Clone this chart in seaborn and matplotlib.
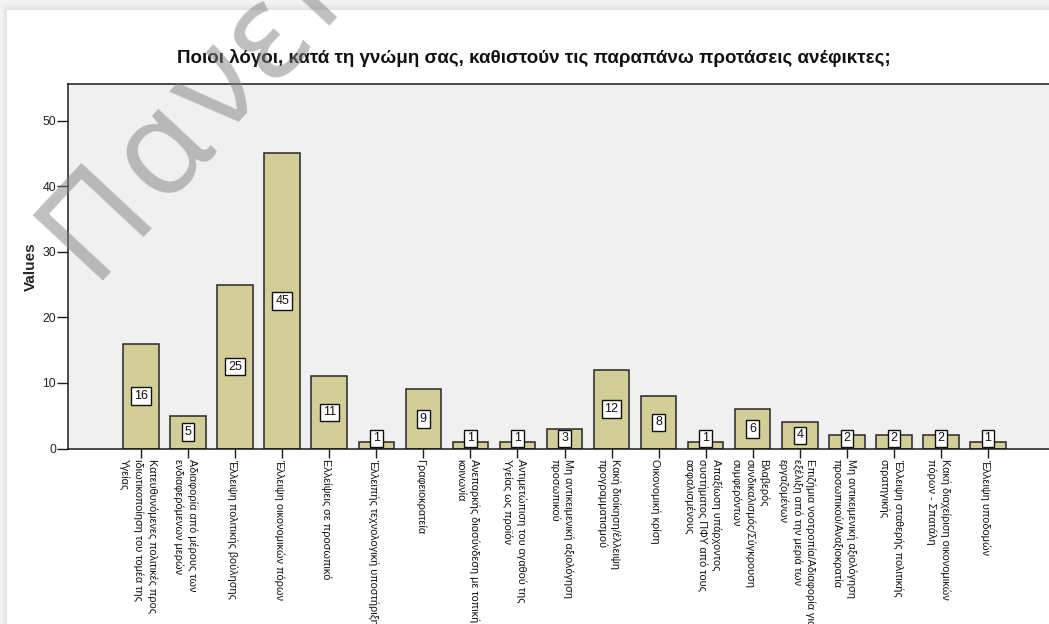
import numpy as np
import pandas as pd
import matplotlib
matplotlib.use("Agg")
import matplotlib.pyplot as plt
import matplotlib.transforms as mtransforms
from matplotlib.patches import Rectangle
from matplotlib.font_manager import FontProperties
import seaborn as sns

# Survey answers: reasons that make the proposals infeasible
reasons = [
    "Κατευθυνόμενες πολιτικές προς\nιδιωτικοποίηση του τομέα της\nΥγείας",
    "Αδιαφορία από μέρους των\nενδιαφερόμενων μερών",
    "Έλλειψη πολιτικής βούλησης",
    "Έλλειψη οικονομικών πόρων",
    "Ελλείψεις σε προσωπικό",
    "Έλλειπής τεχνολογική υποστήριξη",
    "Γραφειοκρατεία",
    "Ανεπαρκής διασύνδεση με τοπική\nκοινωνία",
    "Αντιμετώπιση του αγαθού της\nΥγείας ως προϊόν",
    "Μη αντικειμενική αξιολόγηση\nπροσωπικού",
    "Κακή διοίκηση/έλλειψη\nπρογραμματισμού",
    "Οικονομική κρίση",
    "Απαξίωση υπάρχοντος\nσυστήματος ΠΦΥ από τους\nασφαλισμένους",
    "Βλαβερός\nσυνδικαλισμός/Σύγκρουση\nσυμφερόντων",
    "Επιζήμια νοοτροπία/Αδιαφορία για\nεξέλιξη από την μεριά των\nεργαζομένων",
    "Μη αντικειμενική αξιολόγηση\nπροσωπικού/Αναξιοκρατία",
    "Έλλειψη σταθερής πολιτικής\nστρατηγικής",
    "Κακή διαχείριση οικονομικών\nπόρων - Σπατάλη",
    "Έλλειψη υποδομών",
]
counts = [16, 5, 25, 45, 11, 1, 9, 1, 1, 3, 12, 8, 1, 6, 4, 2, 2, 2, 1]
y_ticks = [0, 10, 20, 30, 40, 50]

title = "Ποιοι λόγοι, κατά τη γνώμη σας, καθιστούν τις παραπάνω προτάσεις ανέφικτες;"
y_title = "Values"
watermark = "Πανεπιστήμιο"

sns.set_style("ticks")
plt.rcParams["font.family"] = ["Liberation Sans", "DejaVu Sans"]

W, H = 1049, 624
fig = plt.figure(figsize=(W / 100, H / 100), dpi=100)
fig.patch.set_facecolor("white")

# soft grey frame along the top and left edges
for i, c in enumerate(["#e4e4e4", "#e9e9e9", "#eeeeee", "#f3f3f3"]):
    fig.add_artist(Rectangle((0, 1 - (10 - 2 * i) / H), 1, (10 - 2 * i) / H,
                             transform=fig.transFigure, color=c, lw=0, zorder=0))
    fig.add_artist(Rectangle((0, 0), (7 - 1.5 * i) / W, 1,
                             transform=fig.transFigure, color=c, lw=0, zorder=0))

ax_left, ax_top, ax_bottom, ax_right = 68, 84, 448.5, 1061
ax = fig.add_axes([ax_left / W, 1 - ax_bottom / H,
                   (ax_right - ax_left) / W, (ax_bottom - ax_top) / H])
ax.set_facecolor("#f0f0f0")

df = pd.DataFrame({"reason": reasons, "count": counts})
sns.barplot(data=df, x="reason", y="count", order=reasons, color="#d3ce97",
            saturation=1, width=0.755, edgecolor="#262626", linewidth=1.1,
            ax=ax, zorder=2)

ax.set_xlim(-1.551, len(reasons) - 1 + 1.551)
ax.set_ylim(0, 55.6)
ax.set_yticks(y_ticks)
ax.set_yticklabels([str(t) for t in y_ticks], fontsize=8.8)

for spine in ax.spines.values():
    spine.set_color("#1a1a1a")
    spine.set_linewidth(1.1)

ax.tick_params(axis="y", direction="out", length=8, width=1.0, pad=0.5,
               colors="#1a1a1a", labelcolor="#222222")
ax.tick_params(axis="x", direction="out", length=6.5, width=1.0, pad=1,
               colors="#1a1a1a")

ax.set_xticks(range(len(reasons)))
ax.set_xticklabels(reasons, rotation=270, ha="center", va="top",
                   multialignment="left", fontsize=7.8, linespacing=1.4,
                   color="#111111")
shift = mtransforms.ScaledTranslation(-3 / 100, 0, fig.dpi_scale_trans)
for lab in ax.get_xticklabels():
    lab.set_transform(lab.get_transform() + shift)

ax.set_xlabel("")
ax.set_ylabel(y_title, fontsize=11, fontweight="bold")
ax.yaxis.set_label_coords((37.5 - ax_left) / (ax_right - ax_left), 0.5)

# value labels in white boxes, centred on each bar
for i, v in enumerate(counts):
    ax.text(i, max(v / 2, 1.55), str(v), ha="center", va="center",
            fontsize=9, color="#111111", zorder=4,
            bbox=dict(boxstyle="square,pad=0.22", facecolor="white",
                      edgecolor="#111111", linewidth=1.0))

fig.text(534 / W, 1 - 58 / H, title, ha="center", va="center",
         fontsize=13.5, fontweight="bold", color="#111111")

# diagonal, slightly letter-spaced watermark across the upper left
wm_prop = FontProperties(family="Noto Sans", size=96)
wm_angle = 47
wm_spacing = 1.07
renderer = fig.canvas.get_renderer()
ox, oy = 90, 281
ca, sa = np.cos(np.deg2rad(wm_angle)), np.sin(np.deg2rad(wm_angle))
for k, ch in enumerate(watermark):
    adv = 0.0
    if k:
        adv = renderer.get_text_width_height_descent(watermark[:k], wm_prop,
                                                     ismath=False)[0]
    adv *= wm_spacing
    px, py = ox + adv * ca, oy - adv * sa
    fig.text(px / W, 1 - py / H, ch, rotation=wm_angle, rotation_mode="anchor",
             ha="left", va="baseline", fontproperties=wm_prop,
             color="#808080", alpha=0.5, zorder=10)

fig.savefig("out.png", dpi=100)
